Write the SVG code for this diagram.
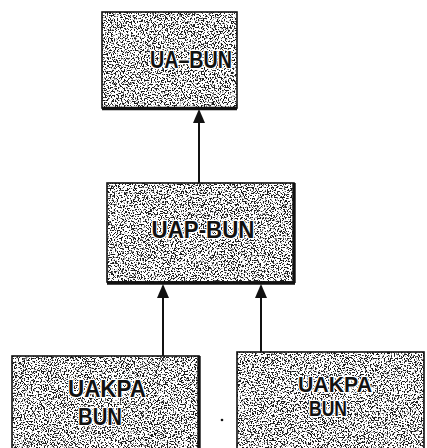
<svg xmlns="http://www.w3.org/2000/svg" width="427" height="448" viewBox="0 0 427 448">
  <style>
    .box { fill: #fff; filter: url(#grain); }
    .frame { fill: none; stroke: #111; stroke-width: 1.6; }
    .edge { stroke: #111; stroke-width: 3.4; fill: none; }
    .lbl { font-family: "Liberation Sans", Arial, sans-serif; font-weight: bold; font-size: 24px; fill: #111; text-anchor: middle; stroke: #fff; stroke-width: 2.5; stroke-linejoin: round; paint-order: stroke; }
    .sm { font-size: 22px; }
    .wire { stroke: #111; stroke-width: 2; fill: none; }
    .head { fill: #111; }
  </style>
  <defs>
    <!-- speckled paper texture for the boxes -->
    <filter id="grain" x="0" y="0" width="100%" height="100%" color-interpolation-filters="sRGB">
      <feTurbulence type="fractalNoise" baseFrequency="0.7" numOctaves="3" seed="7" result="n"/>
      <feColorMatrix in="n" type="matrix" values="0 0 0 0 0.1  0 0 0 0 0.1  0 0 0 0 0.1  12 0 0 0 -6.2" result="dots"/>
      <feFlood flood-color="#ffffff" result="w"/>
      <feMerge>
        <feMergeNode in="w"/>
        <feMergeNode in="dots"/>
      </feMerge>
    </filter>
  </defs>

  <g id="connectors">
    <path class="wire" d="M199,183 L199,120"/>
    <path class="head" d="M199,109 L193,123 L205,123 Z"/>
    <path class="wire" d="M163,356 L163,295"/>
    <path class="head" d="M163,284 L157,298 L169,298 Z"/>
    <path class="wire" d="M261,352 L261,295"/>
    <path class="head" d="M261,284 L255,298 L267,298 Z"/>
  </g>

  <g id="ua-bun">
    <rect class="box" x="102" y="12" width="135" height="96"/>
    <rect class="frame" x="102" y="12" width="135" height="96"/>
    <path class="edge" d="M102,108.5 L237,108.5"/>
    <text class="lbl" x="191" y="68" textLength="82" lengthAdjust="spacingAndGlyphs">UA–BUN</text>
  </g>

  <g id="uap-bun">
    <rect class="box" x="107" y="183" width="187" height="99"/>
    <rect class="frame" x="107" y="183" width="187" height="99"/>
    <path class="edge" d="M294,183 L294,283 M107,283 L295,283"/>
    <text class="lbl" x="203" y="238" textLength="103" lengthAdjust="spacingAndGlyphs">UAP-BUN</text>
  </g>

  <g id="uakpa-bun-left">
    <rect class="box" x="12" y="356" width="187" height="96"/>
    <rect class="frame" x="12" y="356" width="187" height="96"/>
    <path class="edge" d="M199,356 L199,448"/>
    <text class="lbl" x="107" y="397" textLength="78" lengthAdjust="spacingAndGlyphs">UAKPA</text>
    <text class="lbl" x="100" y="425" textLength="44" lengthAdjust="spacingAndGlyphs">BUN</text>
  </g>

  <g id="uakpa-bun-right">
    <rect class="box" x="237" y="352" width="187" height="100"/>
    <rect class="frame" x="237" y="352" width="187" height="100"/>
    <text class="lbl sm" x="335" y="392" textLength="74" lengthAdjust="spacingAndGlyphs">UAKPA</text>
    <text class="lbl sm" x="328" y="416" textLength="38" lengthAdjust="spacingAndGlyphs">BUN</text>
  </g>

  <circle cx="222" cy="420" r="1.3" fill="#111"/>
</svg>
